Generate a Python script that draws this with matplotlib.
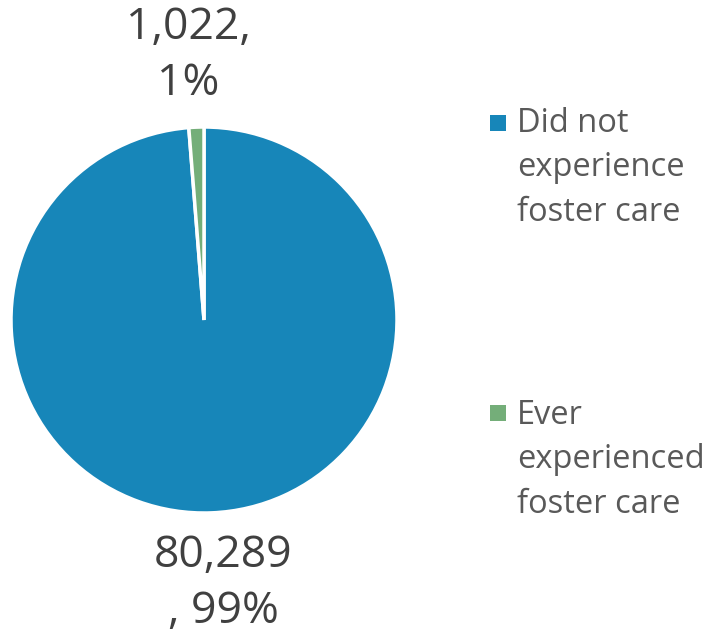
import matplotlib.pyplot as plt
from matplotlib.patches import Rectangle

categories = ["Did not\nexperience\nfoster care", "Ever\nexperienced\nfoster care"]
counts = [80289, 1022]
percents = ["99%", "1%"]
colors = ["#1786b9", "#74ae79"]

plt.rcParams["font.family"] = ["Open Sans", "DejaVu Sans"]

fig = plt.figure(figsize=(7.07, 6.35), dpi=100)
ax = fig.add_axes([11 / 707, (635 - 513) / 635, 386 / 707, 386 / 635])
ax.pie(counts, colors=colors, startangle=90, counterclock=False,
       wedgeprops=dict(edgecolor="white", linewidth=2.5))
ax.set_aspect("equal")
ax.set_xlim(-1, 1)
ax.set_ylim(-1, 1)

label_color = "#404040"
ax.text(-0.08, 1.37, f"{counts[1]:,},\n{percents[1]}", ha="center", va="center",
        fontsize=32, color=label_color, linespacing=1.34, clip_on=False)
ax.text(0.10, -1.365, f"{counts[0]:,}\n, {percents[0]}", ha="center", va="center",
        fontsize=32, color=label_color, linespacing=1.34, clip_on=False)

# legend drawn by hand so each swatch sits on the first line of its label
swatch_tops = [115, 405]
text_centers = [168, 460]
for label, color, top, mid in zip(categories, colors, swatch_tops, text_centers):
    fig.patches.append(Rectangle((490 / 707, 1 - (top + 16) / 635), 16 / 707, 16 / 635,
                                 transform=fig.transFigure, facecolor=color,
                                 edgecolor="none"))
    fig.text(517 / 707, 1 - mid / 635, label, ha="left", va="center",
             fontsize=23.5, color="#595959", linespacing=1.46)

fig.savefig("out.png", dpi=100)
